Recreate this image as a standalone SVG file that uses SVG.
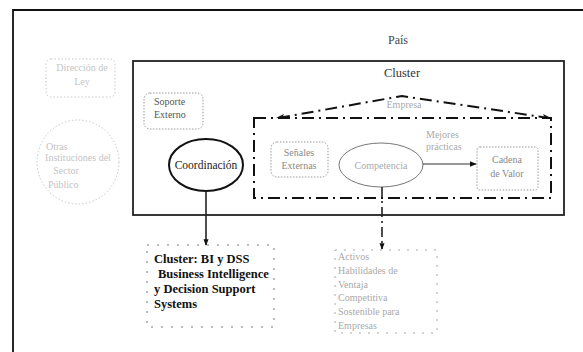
<svg xmlns="http://www.w3.org/2000/svg" width="583" height="352" viewBox="0 0 583 352" font-family="'Liberation Serif', 'Times New Roman', serif">
<style>
text{font-family:"Liberation Serif","Times New Roman",serif;}
.faint{font-family:"Liberation Serif",serif;fill:#c4c4c4;font-size:10px;}
.gray{font-family:"Liberation Serif",serif;fill:#8a8a8a;font-size:10px;}
.lbl{font-family:"Liberation Serif",serif;fill:#555;font-size:10px;}
.main{font-family:"Liberation Serif",serif;}
.dotbox{fill:none;stroke:#9a9a9a;stroke-width:1;stroke-dasharray:1.5 1.5;}
.faintbox{fill:none;stroke:#c8c8c8;stroke-width:1;stroke-dasharray:1.5 2;}
.dashdot{fill:none;stroke:#111;stroke-width:2;stroke-dasharray:12 5 2 5;}
.bi{font-family:"Liberation Serif",serif;fill:#111;font-size:12.5px;font-weight:bold;}
</style>
<defs>
<marker id="ah" viewBox="0 0 10 10" refX="9" refY="5" markerWidth="6" markerHeight="6" orient="auto"><path d="M0,1 L10,5 L0,9 z" fill="#111"/></marker>
<marker id="ahs" viewBox="0 0 10 10" refX="9" refY="5" markerWidth="4" markerHeight="4" orient="auto"><path d="M0,1 L10,5 L0,9 z" fill="#111"/></marker>
</defs>
<rect width="583" height="352" fill="#fff"/>
<path d="M13,352 V10 H583" fill="none" stroke="#111" stroke-width="1.8"/>
<text x="398" y="44" text-anchor="middle" class="main" style="font-size:12px;fill:#444">País</text>

<g id="cluster">
<rect x="133" y="61" width="431" height="154" fill="none" stroke="#222" stroke-width="1.8"/>
<text x="402" y="77" text-anchor="middle" class="main" style="font-size:12.5px;fill:#333">Cluster</text>
</g>

<g id="empresa">
<rect x="254" y="118" width="297" height="80" class="dashdot"/>
<polyline points="278,118 402,96 549,118" class="dashdot" stroke-width="1.6"/>
<path d="M276,118 l8,-4 l-2,4 z M551,118 l-8,-4 l2,4 z" fill="#111"/>
<text x="404" y="108" text-anchor="middle" class="faint" style="fill:#aaa">Empresa</text>
</g>

<g id="gobierno">
<rect x="46" y="59" width="69" height="38" rx="5" class="faintbox"/>
<text x="82" y="71" text-anchor="middle" class="faint">Dirección de</text>
<text x="82" y="85" text-anchor="middle" class="faint">Ley</text>
</g>

<g id="instituciones">
<ellipse cx="78" cy="162" rx="41" ry="42" class="faintbox"/>
<text x="46" y="150" class="faint">Otras</text>
<text x="78" y="161" text-anchor="middle" class="faint">Instituciones del</text>
<text x="66" y="174" text-anchor="middle" class="faint">Sector</text>
<text x="48" y="188" class="faint">Público</text>
</g>

<g id="soporte">
<rect x="144" y="93" width="59" height="36" rx="6" class="dotbox"/>
<text x="154" y="105" class="lbl">Soporte</text>
<text x="154" y="118" class="lbl">Externo</text>
</g>

<g id="coordinacion">
<ellipse cx="206" cy="165" rx="37" ry="26" fill="none" stroke="#111" stroke-width="2"/>
<text x="206" y="169" text-anchor="middle" class="main" style="font-size:11.5px;fill:#222">Coordinación</text>
</g>

<g id="senales">
<rect x="271" y="142" width="57" height="35" rx="6" class="dotbox"/>
<text x="299" y="156" text-anchor="middle" class="gray">Señales</text>
<text x="299" y="169" text-anchor="middle" class="gray">Externas</text>
</g>

<g id="competencia">
<ellipse cx="381" cy="165" rx="42" ry="22" fill="none" stroke="#777" stroke-width="1"/>
<text x="381" y="169" text-anchor="middle" class="faint" style="fill:#aaa">Competencia</text>
</g>

<g id="mejores">
<text x="426" y="138" class="faint" style="fill:#aaa">Mejores</text>
<text x="426" y="150" class="faint" style="fill:#aaa">prácticas</text>
</g>

<g id="cadena">
<rect x="477" y="147" width="61" height="43" rx="3" class="dotbox"/>
<text x="507" y="163" text-anchor="middle" class="gray">Cadena</text>
<text x="507" y="177" text-anchor="middle" class="gray">de Valor</text>
</g>

<g id="bi">
<rect x="147" y="245" width="127" height="82" class="dotbox" style="stroke:#777;stroke-dasharray:2 8"/>
<text x="154" y="263" class="bi">Cluster: BI y DSS</text>
<text x="158" y="278" class="bi">Business Intelligence</text>
<text x="154" y="293" class="bi">y Decision Support</text>
<text x="154" y="308" class="bi">Systems</text>
</g>

<g id="activos">
<rect x="335" y="250" width="102" height="83" class="dotbox" style="stroke:#aaa;stroke-dasharray:2 7"/>
<text x="338" y="260" class="faint" style="fill:#aaa">Activos</text>
<text x="338" y="274" class="faint" style="fill:#aaa">Habilidades de</text>
<text x="338" y="288" class="faint" style="fill:#aaa">Ventaja</text>
<text x="338" y="301" class="faint" style="fill:#aaa">Competitiva</text>
<text x="338" y="315" class="faint" style="fill:#aaa">Sostenible para</text>
<text x="338" y="329" class="faint" style="fill:#aaa">Empresas</text>
</g>

<g id="connectors">
<line x1="423" y1="164" x2="476" y2="164" stroke="#333" stroke-width="1.2" marker-end="url(#ah)"/>
<line x1="206" y1="191" x2="206" y2="245" stroke="#222" stroke-width="1.6" marker-end="url(#ahs)"/>
<line x1="382" y1="187" x2="382" y2="249" stroke="#222" stroke-width="1.6" stroke-dasharray="10 4 2 4" marker-end="url(#ahs)"/>
</g>
</svg>
